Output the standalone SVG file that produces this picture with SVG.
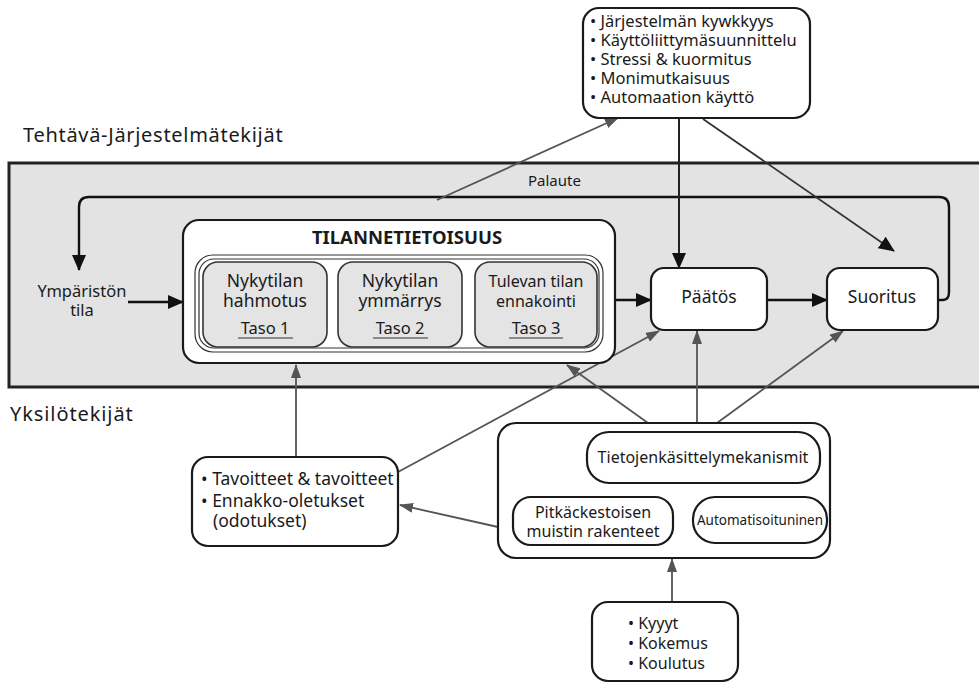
<svg xmlns="http://www.w3.org/2000/svg" width="979" height="684" viewBox="0 0 979 684">
<defs>
<style>
text{font-family:"Noto Sans","Open Sans","DejaVu Sans",sans-serif;fill:#1a1a1a}
.box{fill:#fff;stroke:#1a1a1a;stroke-width:2.2}
.lvl{fill:#e4e4e4;stroke:#333;stroke-width:1.6}
.thin{fill:none;stroke:#333;stroke-width:1.2}
.blk{fill:none;stroke:#111;stroke-width:2.4}
.gry{fill:none;stroke:#555;stroke-width:1.8}
.t17{font-size:17.5px}
.t16{font-size:16px}
.t15{font-size:15px}
</style>
<marker id="ab" markerUnits="userSpaceOnUse" markerWidth="16" markerHeight="14" refX="15" refY="7" orient="auto"><path d="M0,0 L16,7 L0,14 Z" fill="#111"/></marker>
<marker id="ag" markerUnits="userSpaceOnUse" markerWidth="14" markerHeight="10" refX="13" refY="5" orient="auto"><path d="M0,0 L14,5 L0,10 Z" fill="#555"/></marker>
<marker id="as" markerUnits="userSpaceOnUse" markerWidth="11" markerHeight="10" refX="10" refY="5" orient="auto"><path d="M0,0 L11,5 L0,10 Z" fill="#333"/></marker>
</defs>

<rect x="0" y="0" width="979" height="684" fill="#fff"/>
<text x="23" y="142" font-size="20" letter-spacing="0.7">Tehtävä-Järjestelmätekijät</text>
<text x="10" y="421" font-size="20" letter-spacing="0.9">Yksilötekijät</text>
<rect id="task-area" x="9" y="163" width="985" height="224" fill="#e3e3e3" stroke="#222" stroke-width="3"/>

<g id="connectors">
<path class="blk" d="M938,300 L943,300 Q949,300 949,292 L949,207 Q949,197 939,197 L89,197 Q79,197 79,207 L79,270" marker-end="url(#ab)"/>
<line class="blk" x1="128" y1="302" x2="183" y2="302" marker-end="url(#ab)"/>
<line class="blk" x1="615" y1="300" x2="651" y2="300" marker-end="url(#ab)"/>
<line class="blk" x1="767" y1="300" x2="827" y2="300" marker-end="url(#ab)"/>
<line x1="679" y1="118" x2="679" y2="268" stroke="#222" stroke-width="2" marker-end="url(#ab)"/>
<line x1="703" y1="119" x2="894" y2="251" stroke="#333" stroke-width="1.8" marker-end="url(#ab)"/>
<line class="gry" x1="437" y1="200" x2="618" y2="118" marker-end="url(#ag)"/>
<line class="thin" x1="327" y1="300" x2="338" y2="300" marker-end="url(#as)"/>
<line class="thin" x1="462" y1="300" x2="475" y2="300" marker-end="url(#as)"/>
<line class="gry" x1="296" y1="457" x2="296" y2="365" marker-end="url(#ag)"/>
<line class="gry" x1="398" y1="472" x2="659" y2="331" marker-end="url(#ag)"/>
<line class="gry" x1="648" y1="423" x2="567" y2="365" marker-end="url(#ag)"/>
<line class="gry" x1="697" y1="423" x2="697" y2="331" marker-end="url(#ag)"/>
<line class="gry" x1="717" y1="423" x2="843" y2="331" marker-end="url(#ag)"/>
<line class="gry" x1="498" y1="527" x2="400" y2="505" marker-end="url(#ag)"/>
<line class="gry" x1="672" y1="602" x2="672" y2="559" marker-end="url(#ag)"/>
<line class="thin" x1="673" y1="523" x2="693" y2="523" marker-end="url(#as)"/>
</g>

<text x="528" y="186" class="t15">Palaute</text>

<g id="system-factors">
<rect class="box" x="583" y="8" width="227" height="110" rx="16"/>
<text x="590" y="27" font-size="16.5">• Järjestelmän kywkkyys</text>
<text x="590" y="46" font-size="16.5">• Käyttöliittymäsuunnittelu</text>
<text x="590" y="65" font-size="16.5">• Stressi &amp; kuormitus</text>
<text x="590" y="84" font-size="16.5">• Monimutkaisuus</text>
<text x="590" y="103" font-size="16.5">• Automaation käyttö</text>
</g>

<g id="environment">
<text x="82" y="297" font-size="16.5" text-anchor="middle">Ympäristön</text>
<text x="82" y="316" font-size="16.5" text-anchor="middle">tila</text>
</g>

<g id="sa">
<rect class="box" x="183" y="220" width="432" height="143" rx="16"/>
<text x="407" y="244" font-size="18.5" font-weight="bold" text-anchor="middle">TILANNETIETOISUUS</text>
<rect class="thin" x="195" y="255" width="408" height="97" rx="18" fill="#fff"/>
<rect class="thin" x="199" y="259" width="400" height="89" rx="15"/>
</g>

<g id="level1">
<rect class="lvl" x="203" y="262" width="124" height="85" rx="15"/>
<text class="t17" x="265" y="287" text-anchor="middle">Nykytilan</text>
<text class="t17" x="265" y="307" text-anchor="middle">hahmotus</text>
<text x="265" y="334" font-size="16.5" text-anchor="middle">Taso 1</text>
<line x1="238" y1="338" x2="293" y2="338" stroke="#333" stroke-width="1.2"/>
</g>
<g id="level2">
<rect class="lvl" x="338" y="262" width="124" height="85" rx="15"/>
<text class="t17" x="400" y="287" text-anchor="middle">Nykytilan</text>
<text class="t17" x="400" y="307" text-anchor="middle">ymmärrys</text>
<text x="400" y="334" font-size="16.5" text-anchor="middle">Taso 2</text>
<line x1="373" y1="338" x2="428" y2="338" stroke="#333" stroke-width="1.2"/>
</g>
<g id="level3">
<rect class="lvl" x="475" y="262" width="122" height="85" rx="15"/>
<text class="t16" x="536" y="287" text-anchor="middle">Tulevan tilan</text>
<text class="t16" x="536" y="307" text-anchor="middle">ennakointi</text>
<text x="536" y="334" font-size="16.5" text-anchor="middle">Taso 3</text>
<line x1="509" y1="338" x2="563" y2="338" stroke="#333" stroke-width="1.2"/>
</g>

<g id="decision">
<rect class="box" x="651" y="268" width="116" height="62" rx="13"/>
<text x="709" y="303" font-size="17.5" text-anchor="middle">Päätös</text>
</g>
<g id="performance">
<rect class="box" x="827" y="268" width="111" height="62" rx="13"/>
<text x="882" y="303" font-size="17.5" text-anchor="middle">Suoritus</text>
</g>

<g id="goals">
<rect class="box" x="192" y="457" width="206" height="89" rx="16"/>
<text class="t17" x="201" y="485" font-size="17">• Tavoitteet &amp; tavoitteet</text>
<text class="t17" x="201" y="507" font-size="17">• Ennakko-oletukset</text>
<text class="t17" x="213" y="527" font-size="17">(odotukset)</text>
</g>

<g id="processing">
<rect class="box" x="498" y="423" width="332" height="135" rx="18"/>
</g>
<g id="mechanisms">
<rect class="box" x="587" y="432" width="233" height="51" rx="22"/>
<text class="t16" x="703" y="463" text-anchor="middle">Tietojenkäsittelymekanismit</text>
</g>
<g id="ltm">
<rect class="box" x="513" y="497" width="160" height="48" rx="18"/>
<text class="t16" x="593" y="518" text-anchor="middle">Pitkäckestoisen</text>
<text class="t16" x="593" y="537" text-anchor="middle">muistin rakenteet</text>
</g>
<g id="automation">
<rect class="box" x="693" y="497" width="134" height="46" rx="22"/>
<text x="760" y="525" font-size="13.5" text-anchor="middle">Automatisoituninen</text>
</g>

<g id="abilities">
<rect class="box" x="592" y="602" width="146" height="79" rx="16"/>
<text class="t16" x="628" y="629">• Kyyyt</text>
<text class="t16" x="628" y="649">• Kokemus</text>
<text class="t16" x="628" y="669">• Koulutus</text>
</g>
</svg>
